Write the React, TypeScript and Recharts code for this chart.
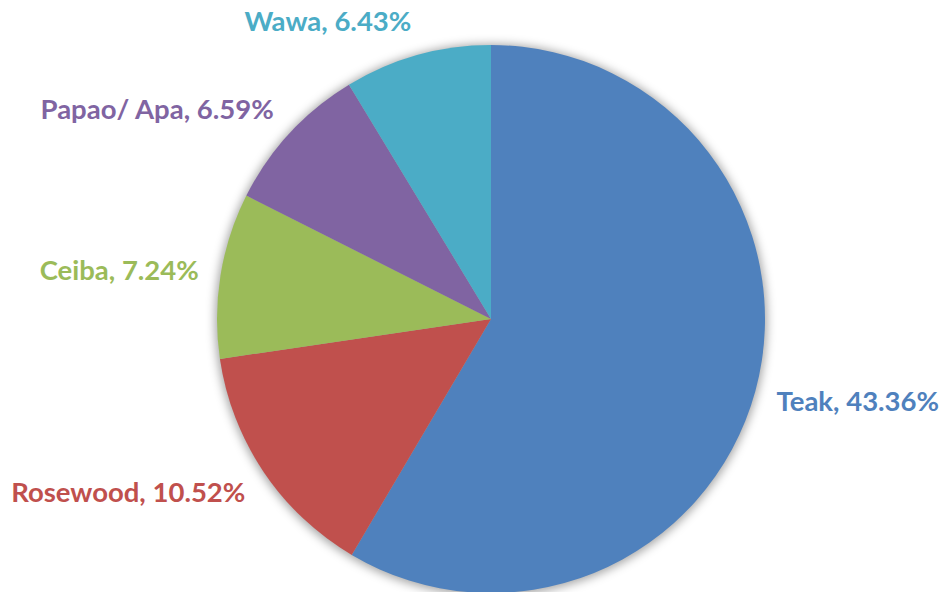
import React from "react";
import { PieChart, Pie, Cell } from "recharts";

const species = ["Teak", "Rosewood", "Ceiba", "Papao/ Apa", "Wawa"];
const shares = [43.36, 10.52, 7.24, 6.59, 6.43];
const colors = ["#4F81BD", "#C0504D", "#9BBB59", "#8064A2", "#4BACC6"];
const shadowData = [{ name: "shadow", value: 1 }];

const data = species.map((name, i) => ({ name, value: shares[i] }));

const RAD = Math.PI / 180;

const renderLabel = (props: any) => {
  const { cx, cy, midAngle, outerRadius, index } = props;
  const cos = Math.cos(-midAngle * RAD);
  const sin = Math.sin(-midAngle * RAD);
  const r = outerRadius + 22;
  const x = cx + r * cos;
  const y = cy + r * sin + sin * 14;
  const d = data[index];
  return (
    <text
      x={x}
      y={y}
      fill={colors[index]}
      textAnchor={cos >= 0 ? "start" : "end"}
      dominantBaseline="central"
      fontFamily="Lato, 'Open Sans', sans-serif"
      fontWeight="bold"
      fontSize={27.5}
    >
      {`${d.name}, ${d.value.toFixed(2)}%`}
    </text>
  );
};

export default function App() {
  return (
    <div style={{ position: "absolute", left: 0, top: 0, background: "#fff" }}>
      <PieChart width={946} height={592} margin={{ top: 0, right: 0, bottom: 0, left: 0 }}>
        <defs>
          <filter id="pieGlow" x="-20%" y="-20%" width="140%" height="140%">
            <feGaussianBlur stdDeviation="5" />
          </filter>
        </defs>
        <Pie
          data={shadowData}
          dataKey="value"
          cx={491}
          cy={320}
          outerRadius={276}
          startAngle={90}
          endAngle={-270}
          stroke="none"
          isAnimationActive={false}
          label={false}
          labelLine={false}
        >
          <Cell fill="#000" fillOpacity={0.35} filter="url(#pieGlow)" />
        </Pie>
        <Pie
          data={data}
          dataKey="value"
          nameKey="name"
          cx={491}
          cy={319}
          outerRadius={274}
          startAngle={90}
          endAngle={-270}
          stroke="none"
          isAnimationActive={false}
          label={renderLabel}
          labelLine={false}
        >
          {data.map((d, i) => (
            <Cell key={d.name} fill={colors[i]} />
          ))}
        </Pie>
      </PieChart>
    </div>
  );
}
